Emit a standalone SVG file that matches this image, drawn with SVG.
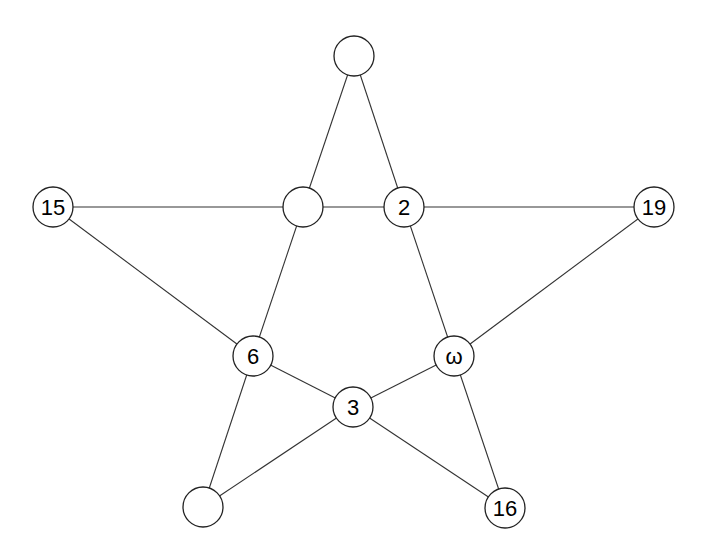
<svg xmlns="http://www.w3.org/2000/svg" width="721" height="549" viewBox="0 0 721 549">
<style>
.n circle{fill:#fff;stroke:#222;stroke-width:1.3}
.n text{font-family:"Liberation Sans",Arial,sans-serif;font-size:22px;fill:#000;text-anchor:middle;dominant-baseline:central}
#edges line{stroke:#333;stroke-width:1.1}
</style>
<rect width="721" height="549" fill="#fff"/>
<g id="edges">
<line x1="354" y1="56" x2="303" y2="207"/>
<line x1="354" y1="56" x2="404" y2="207"/>
<line x1="53" y1="207" x2="303" y2="207"/>
<line x1="303" y1="207" x2="404" y2="207"/>
<line x1="404" y1="207" x2="654" y2="207"/>
<line x1="53" y1="207" x2="253" y2="356"/>
<line x1="303" y1="207" x2="253" y2="356"/>
<line x1="404" y1="207" x2="454" y2="356"/>
<line x1="654" y1="207" x2="454" y2="356"/>
<line x1="253" y1="356" x2="353" y2="407"/>
<line x1="454" y1="356" x2="353" y2="407"/>
<line x1="253" y1="356" x2="203" y2="507"/>
<line x1="353" y1="407" x2="203" y2="507"/>
<line x1="353" y1="407" x2="505" y2="508"/>
<line x1="454" y1="356" x2="505" y2="508"/>
</g>
<g id="n-top" class="n"><circle cx="354" cy="56" r="20"/></g>
<g id="n-15" class="n"><circle cx="53" cy="207" r="20"/><text x="53" y="207">15</text></g>
<g id="n-mid" class="n"><circle cx="303" cy="207" r="20"/></g>
<g id="n-2" class="n"><circle cx="404" cy="207" r="20"/><text x="404" y="207">2</text></g>
<g id="n-19" class="n"><circle cx="654" cy="207" r="20"/><text x="654" y="207">19</text></g>
<g id="n-6" class="n"><circle cx="253" cy="356" r="20"/><text x="253" y="356">6</text></g>
<g id="n-omega" class="n"><circle cx="454" cy="356" r="20"/><text x="454" y="356">ω</text></g>
<g id="n-3" class="n"><circle cx="353" cy="407" r="20"/><text x="353" y="407">3</text></g>
<g id="n-bl" class="n"><circle cx="203" cy="507" r="20"/></g>
<g id="n-16" class="n"><circle cx="505" cy="508" r="20"/><text x="505" y="508">16</text></g>
</svg>
